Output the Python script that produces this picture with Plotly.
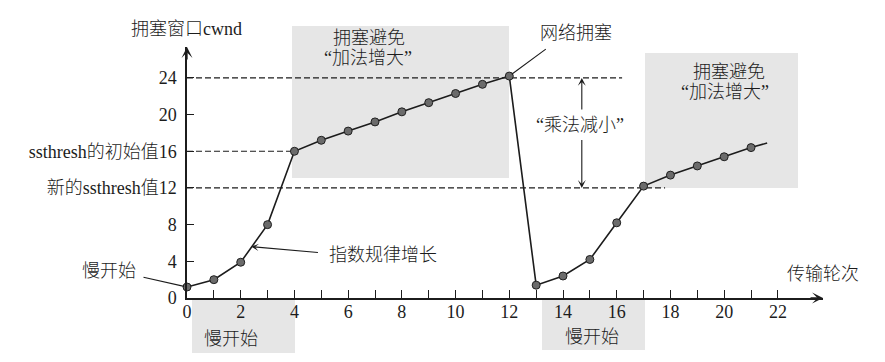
import plotly.graph_objects as go

# ---------------- data ----------------
rounds = list(range(0, 22))
cwnd = [1.2, 2.0, 3.9, 8.0, 16.0, 17.2, 18.2, 19.2, 20.3, 21.3, 22.3, 23.3, 24.2,
        1.4, 2.4, 4.2, 8.2, 12.2, 13.4, 14.4, 15.4, 16.4]
tail_rounds = [21, 21.6]
tail_cwnd = [16.4, 16.9]

peak_cwnd = 24
ssthresh_initial = 16
ssthresh_new = 12

x_tick_vals = list(range(0, 23, 2))
x_minor_vals = list(range(1, 22, 2))
y_tick_vals = [0, 4, 8, 12, 16, 20, 24]
y_tick_text = ["0", "4", "8", "新的ssthresh值12", "ssthresh的初始值16", "20", "24"]

# ---------------- layout geometry ----------------
W, H = 885, 362
ML, MR, MT, MB = 187, 62, 47, 64
PW, PH = W - ML - MR, H - MT - MB
X_MAX, Y_MAX = 23.68, 27.37


def px(p):
    return (p - ML) / PW


def py(p):
    return (H - MB - p) / PH


FONT = "Liberation Serif, Noto Sans CJK SC, serif"
INK = "#1c1c1c"
WEIGHT = 300

fig = go.Figure()

# main cwnd line
fig.add_trace(go.Scatter(
    x=tail_rounds, y=tail_cwnd, mode="lines",
    line=dict(color=INK, width=1.6), hoverinfo="skip", showlegend=False))
fig.add_trace(go.Scatter(
    x=rounds, y=cwnd, mode="lines+markers",
    line=dict(color=INK, width=1.6),
    marker=dict(size=8, color="#6b6b6b", line=dict(color="#202020", width=1)),
    cliponaxis=False, showlegend=False))

shapes = []
# shaded (stippled) regions
for x0, y0, x1, y1 in [(292, 26, 509, 178), (645, 53, 798, 188),
                       (192, 300, 295, 353), (542, 299, 645, 350)]:
    shapes.append(dict(type="rect", xref="paper", yref="paper",
                       x0=px(x0), x1=px(x1), y0=py(y1), y1=py(y0),
                       fillcolor="#e6e6e6", line=dict(width=0), layer="below"))

# dashed threshold lines
for yv, xend in [(peak_cwnd, 16.2), (ssthresh_initial, 4.0), (ssthresh_new, 17.8)]:
    shapes.append(dict(type="line", xref="x", yref="y", x0=0, x1=xend, y0=yv, y1=yv,
                       line=dict(color=INK, width=1.2, dash="6px,3px"), layer="below"))

ann = []


def text(s, xp, yp, size=18):
    ann.append(dict(text=s, xref="paper", yref="paper", x=px(xp), y=py(yp),
                    xanchor="center", yanchor="middle", showarrow=False,
                    font=dict(family=FONT, size=size, color=INK, weight=WEIGHT)))


text("拥塞窗口cwnd", 186, 29)
text("传输轮次", 823, 274)
text("拥塞避免", 369, 38)
text("“加法增大”", 368, 58)
text("拥塞避免", 729, 72)
text("“加法增大”", 725, 92)
text("网络拥塞", 576, 33)
text("“乘法减小”", 580, 125)
text("指数规律增长", 383, 255)
text("慢开始", 109, 271)
text("慢开始", 231, 339)
text("慢开始", 592, 337)

# axis arrowheads
ann.append(dict(text="", xref="paper", yref="paper", x=1, y=0, ax=-14, ay=0,
                showarrow=True, arrowhead=3, arrowsize=1.4, arrowwidth=1.3, arrowcolor=INK))
ann.append(dict(text="", xref="paper", yref="paper", x=0, y=1, ax=0, ay=14,
                showarrow=True, arrowhead=3, arrowsize=1.4, arrowwidth=1.3, arrowcolor=INK))

# pointer lines
ann.append(dict(text="", x=rounds[12], y=cwnd[12], ax=38, ay=-28, showarrow=True,
                arrowhead=0, arrowwidth=1.1, arrowcolor=INK, standoff=3))
ann.append(dict(text="", x=rounds[0], y=cwnd[0], ax=-45, ay=-10, showarrow=True,
                arrowhead=0, arrowwidth=1.1, arrowcolor=INK, standoff=3))
ann.append(dict(text="", x=2.4, y=5.6, ax=68, ay=6, showarrow=True,
                arrowhead=3, arrowsize=1.1, arrowwidth=1.1, arrowcolor=INK))
# multiplicative decrease double arrow
ann.append(dict(text="", x=14.7, y=peak_cwnd, ax=14.7, ay=20.4, axref="x", ayref="y",
                showarrow=True, arrowhead=3, arrowsize=1.2, arrowwidth=1.1, arrowcolor=INK))
ann.append(dict(text="", x=14.7, y=ssthresh_new, ax=14.7, ay=17.4, axref="x", ayref="y",
                showarrow=True, arrowhead=3, arrowsize=1.2, arrowwidth=1.1, arrowcolor=INK))

tickfont = dict(family=FONT, size=18, color=INK, weight=WEIGHT)

fig.update_layout(
    width=W, height=H,
    margin=dict(l=ML, r=MR, t=MT, b=MB, pad=0, autoexpand=False),
    paper_bgcolor="white", plot_bgcolor="rgba(0,0,0,0)",
    font=dict(family=FONT, size=18, color=INK),
    shapes=shapes, annotations=ann, showlegend=False,
    xaxis=dict(range=[0, X_MAX], tickvals=x_tick_vals, ticks="inside", ticklen=8,
               tickwidth=1.2, tickcolor=INK, showline=True, linewidth=1.5, linecolor=INK,
               showgrid=False, zeroline=False, ticklabelstandoff=-3, automargin=False,
               tickfont=tickfont,
               minor=dict(tickvals=x_minor_vals, ticks="inside", ticklen=8,
                          tickwidth=1.2, tickcolor=INK, showgrid=False)),
    yaxis=dict(range=[0, Y_MAX], tickvals=y_tick_vals, ticktext=y_tick_text,
               ticks="inside", ticklen=7, tickwidth=1.2, tickcolor=INK,
               showline=True, linewidth=1.5, linecolor=INK, showgrid=False,
               zeroline=False, ticklabelstandoff=5, automargin=False,
               tickfont=tickfont),
)

fig.write_html("out.html", config={"displayModeBar": False},
               post_script="document.body.style.margin='0';document.body.style.overflow='hidden';")
